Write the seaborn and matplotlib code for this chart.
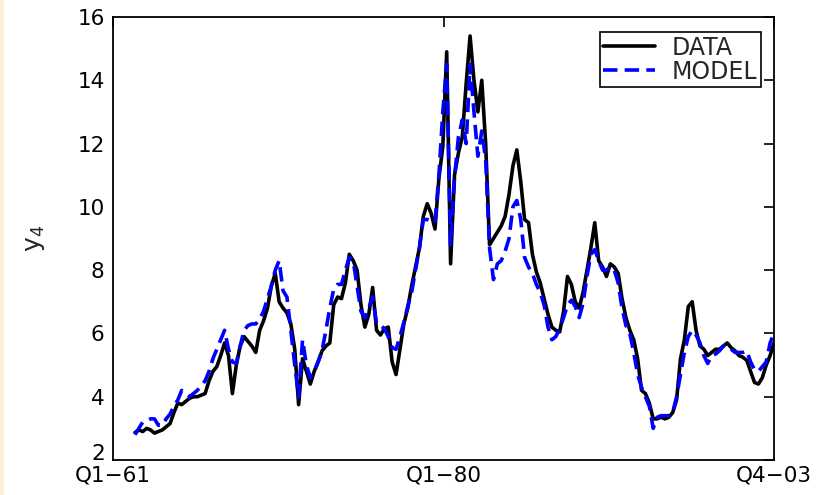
import matplotlib
matplotlib.use("Agg")
import matplotlib.pyplot as plt
import numpy as np
import pandas as pd
import seaborn as sns

data_values = [
    2.87, 2.95, 2.9, 3.0, 2.95, 2.85, 2.9, 2.95, 3.05, 3.15,
    3.5, 3.8, 3.75, 3.85, 3.95, 4.0, 4.0, 4.05, 4.1, 4.5,
    4.8, 4.95, 5.3, 5.7, 5.3, 4.1, 5.0, 5.6, 5.9, 5.75,
    5.6, 5.4, 6.1, 6.4, 6.8, 7.5, 7.9, 7.0, 6.8, 6.65,
    6.3, 5.5, 3.75, 5.2, 4.8, 4.4, 4.8, 5.1, 5.45, 5.6,
    5.7, 6.9, 7.15, 7.1, 7.6, 8.5, 8.3, 8.0, 6.9, 6.2,
    6.6, 7.45, 6.1, 5.95, 6.15, 6.2, 5.1, 4.7, 5.5, 6.3,
    6.8, 7.5, 8.1, 8.7, 9.7, 10.1, 9.8, 9.3, 10.9, 11.9,
    14.9, 8.2, 11.0, 11.7, 12.2, 13.9, 15.4, 14.0, 13.0, 14.0,
    12.0, 8.8, 9.0, 9.2, 9.4, 9.7, 10.4, 11.3, 11.8, 10.8,
    9.6, 9.5, 8.5, 7.95, 7.6, 7.1, 6.6, 6.2, 6.1, 6.05,
    6.7, 7.8, 7.55, 7.0, 6.8, 7.3, 8.0, 8.7, 9.5, 8.3,
    8.1, 7.8, 8.2, 8.1, 7.9, 7.1, 6.5, 6.1, 5.8, 5.2,
    4.2, 4.1, 3.8, 3.3, 3.3, 3.35, 3.3, 3.35, 3.5, 3.9,
    5.2, 5.8, 6.85, 7.0, 6.1, 5.6, 5.5, 5.3, 5.4, 5.5,
    5.5, 5.6, 5.7, 5.55, 5.45, 5.3, 5.25, 5.15, 4.8, 4.45,
    4.4, 4.6, 5.0, 5.3, 5.7,
]
model_values = [
    2.8, 3.0, 3.2, 3.25, 3.3, 3.3, 3.1, 3.1, 3.3, 3.45,
    3.7, 3.9, 4.2, 4.1, 4.0, 4.1, 4.2, 4.35, 4.5, 4.8,
    5.2, 5.5, 5.8, 6.1, 5.5, 5.1, 5.05, 5.6, 6.1, 6.25,
    6.3, 6.3, 6.45, 6.7, 7.1, 7.5, 8.0, 8.3, 7.35, 7.15,
    6.1, 5.0, 4.0, 5.8, 5.0, 4.6, 4.8, 5.1, 5.45, 6.1,
    6.8, 7.4, 7.55, 7.55, 8.0, 8.4, 8.3, 7.5, 6.7, 6.5,
    6.8, 7.15, 6.3, 6.25, 6.15, 5.9, 5.55, 5.5, 5.9, 6.35,
    6.85, 7.3, 8.0, 8.7, 9.6, 9.6, 9.55, 9.5, 11.0, 13.0,
    14.5, 8.8, 10.9, 12.2, 12.75, 12.0, 14.5, 13.0, 11.6, 12.4,
    11.5, 8.7, 7.7, 8.2, 8.3, 8.6, 9.0, 10.0, 10.2, 9.6,
    8.4, 8.1, 7.9, 7.55, 7.3, 6.9, 6.2, 5.8, 5.9, 6.15,
    6.5, 6.9, 7.05, 6.85, 6.5, 6.95, 7.8, 8.5, 8.65, 8.3,
    8.0, 8.0, 8.1, 8.0, 7.6, 6.8, 6.25, 6.0, 5.4, 4.7,
    4.3, 4.0, 3.7, 3.0, 3.35, 3.4, 3.4, 3.4, 3.5, 4.0,
    4.7, 5.4, 5.9, 6.1, 5.95, 5.7, 5.3, 5.05, 5.3, 5.35,
    5.45, 5.6, 5.6, 5.5, 5.4, 5.4, 5.4, 5.45, 5.1, 4.85,
    4.8, 4.95, 5.1, 5.7, 6.0,
]
series_names = ["DATA", "MODEL"]
tick_labels = ["Q1\u221261", "Q1\u221280", "Q4\u221203"]
y_ticks = [2, 4, 6, 8, 10, 12, 14, 16]

sns.set_style("white")
plt.rcParams["font.family"] = ["DejaVu Sans"]

n_points = len(data_values)
quarters = np.arange(n_points)
frame = pd.DataFrame(
    {
        "t": np.concatenate([quarters, quarters]),
        "value": np.concatenate([data_values, model_values]),
        "series": [series_names[0]] * n_points + [series_names[1]] * n_points,
    }
)

fig = plt.figure(figsize=(8.17, 4.95), dpi=100)
fig.patch.set_facecolor("white")
# thin cream strip at the left edge of the slide
fig.add_artist(
    plt.Rectangle((0, 0), 4 / 817, 1, transform=fig.transFigure,
                  facecolor="#fdf0da", edgecolor="none")
)
axis = fig.add_axes([113 / 817, 1 - 460 / 495, 661 / 817, 443 / 495])

sns.lineplot(
    data=frame,
    x="t",
    y="value",
    hue="series",
    style="series",
    palette={"DATA": "black", "MODEL": "#0000ff"},
    dashes={"DATA": "", "MODEL": (4, 2)},
    linewidth=2.6,
    ax=axis,
)

x_left = -5.64
x_right = n_points - 1
axis.set_xlim(x_left, x_right)
axis.set_ylim(2, 16)
axis.set_xticks([x_left, (x_left + x_right) / 2, x_right])
axis.set_xticklabels(tick_labels)
axis.set_yticks(y_ticks)
axis.set_xlabel("")
axis.set_ylabel(r"$\mathregular{y_4}$", fontsize=18, labelpad=22)
axis.tick_params(direction="in", length=7, width=1.2, top=True, right=True,
                 labelsize=15.5, pad=6, colors="black")
axis.tick_params(axis="x", pad=4)
# lowest y label sits on the axis line, as in the original
axis.get_yticklabels()[0].set_verticalalignment("baseline")
for spine in axis.spines.values():
    spine.set_linewidth(1.3)
    spine.set_color("black")

handles, labels = axis.get_legend_handles_labels()
legend = axis.legend(
    handles,
    labels,
    loc="upper right",
    bbox_to_anchor=(761 / 817, 1 - 32 / 495),
    bbox_transform=fig.transFigure,
    borderaxespad=0,
    fancybox=False,
    edgecolor="black",
    framealpha=1,
    fontsize=17,
    handlelength=2.2,
    handletextpad=0.7,
    borderpad=0.15,
    labelspacing=0.0,
)
legend.get_frame().set_linewidth(1.2)

fig.savefig("out.png", dpi=100)
